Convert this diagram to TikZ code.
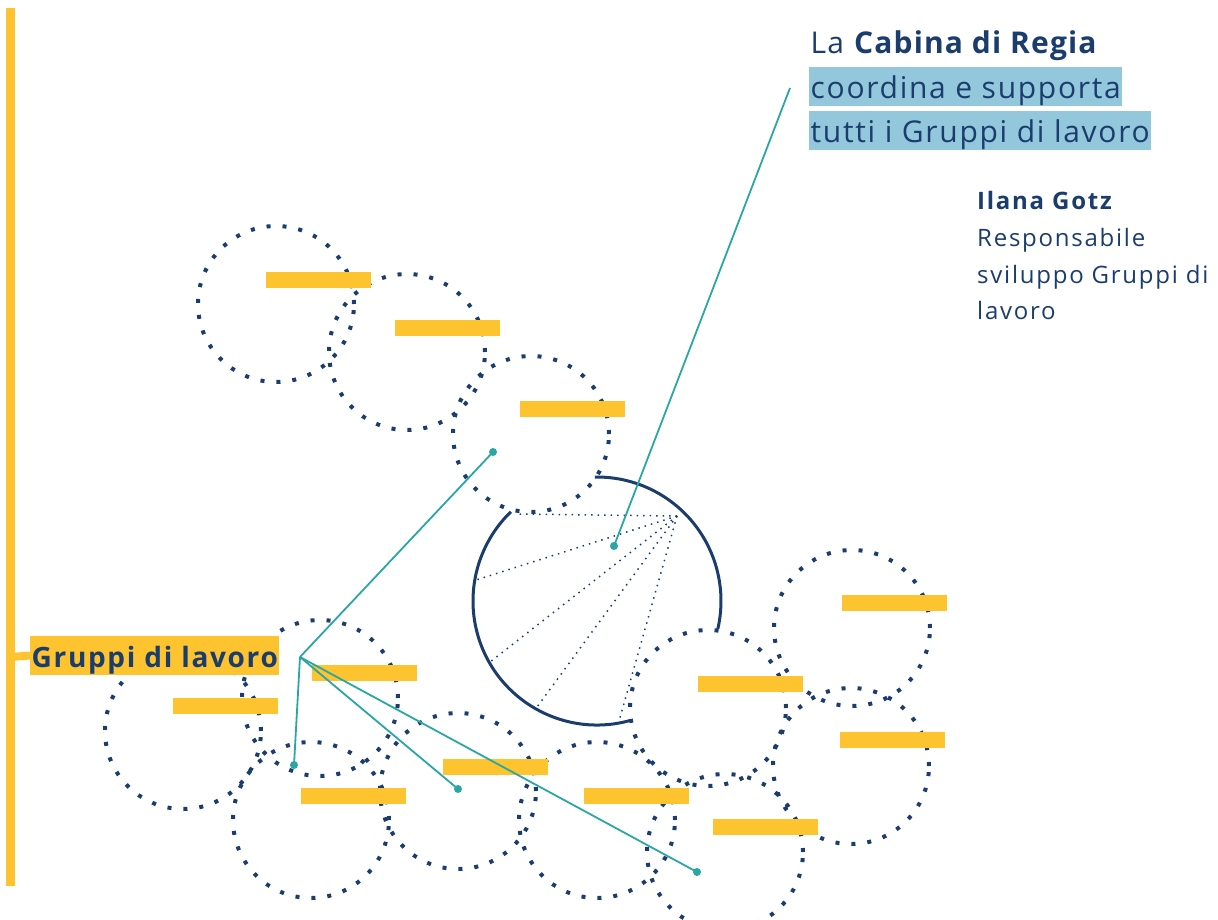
\documentclass[tikz,border=0pt]{standalone}
\usepackage{fontspec}
\setmainfont{Open Sans}
\definecolor{navy}{HTML}{1B3D6D}
\definecolor{gold}{HTML}{FDC42F}
\definecolor{linkteal}{HTML}{2AA6A5}
\definecolor{skyband}{HTML}{93C7DB}
\tikzset{
  group/.style={circle,draw=navy,line width=4pt,dash pattern=on 4pt off 12pt,minimum size=156pt,inner sep=0pt},
  bar/.style={fill=gold,minimum width=105pt,minimum height=16pt,inner sep=0pt},
  link/.style={linkteal,line width=1.8pt},
  pin/.style={circle,fill=linkteal,inner sep=0pt,minimum size=8pt},
  ray/.style={navy,line width=1.5pt,dash pattern=on 1.5pt off 5pt},
  band/.style={text=navy,inner xsep=1.5pt,inner ysep=5pt,text height=26pt,text depth=3pt,anchor=base west},
  big/.style={font=\fontsize{30}{36}\selectfont\addfontfeatures{LetterSpace=5.7}}
}
\begin{document}
\begin{tikzpicture}[x=1pt,y=-1pt]
  \useasboundingbox (0,0) rectangle (1218,919);
  % working groups
  \begin{scope}[every node/.style={group}]
    \foreach \n/\x/\y in {1/276/304,2/407/352,3/531/434,4/183/731,5/311/820,6/320/698,
                          7/458/791,8/597/820,9/708/708,10/852/628,11/851/766,12/725/852}
      \node (g\n) at (\x,\y) {};
  \end{scope}
  % cabina di regia
  \coordinate (cab) at (597,601);
  \coordinate (focus) at (677,516);
  \draw[navy,line width=3pt] (cab) ++(-91:124) arc[start angle=-91,end angle=13,radius=124];
  \draw[navy,line width=3pt] (cab) ++(75:124) arc[start angle=75,end angle=226,radius=124];
  \foreach \p/\x/\y in {a/515/514,b/476/580,c/490/662,d/537/707,e/619/721}
    \draw[ray] (focus) -- (\x,\y) coordinate (r\p);
  % labels of the groups
  \begin{scope}[every node/.style={bar}]
    \foreach \n/\x/\y in {1/318.5/279.5,2/447.5/328,3/572.5/409,4/364.5/673,5/225.5/706,6/495.5/767,
                          7/353.5/796,8/636.5/796,9/750.5/684,10/894.5/603,11/892.5/740,12/765.5/827}
      \node (b\n) at (\x,\y) {};
  \end{scope}
  % links
  \coordinate (hub) at (300,657);
  \coordinate (cue) at (790,88);
  \node[pin] (p0) at (614,546) {};
  \node[pin] (p1) at (493,452) {};
  \node[pin] (p2) at (294,765) {};
  \node[pin] (p3) at (458,789) {};
  \node[pin] (p4) at (697,872) {};
  \draw[link] (cue) -- (p0.center);
  \foreach \k in {1,...,4}
    \draw[link] (hub) -- (p\k.center);
  % spine
  \coordinate (top) at (10.3,8);
  \coordinate (bottom) at (10.3,886);
  \coordinate (spine) at (10.3,657);
  \draw[gold,line width=8.5pt] (top) -- (bottom);
  \node[band,fill=gold,font=\fontsize{28}{32}\selectfont\bfseries\addfontfeatures{LetterSpace=6}] (grp) at (30,667) {Gruppi di lavoro};
  \draw[gold,line width=8pt] (spine) -- (grp.west);
  % texts
  \node[band,font=\fontsize{30}{36}\selectfont\addfontfeatures{LetterSpace=3.8}] (t1) at (809,53.5) {La \textbf{Cabina di Regia}};
  \node[band,big,fill=skyband] (t2) at (809,98) {coordina e supporta};
  \node[band,big,fill=skyband] (t3) at (809,142) {tutti i Gruppi di lavoro};
  \node[text=navy,anchor=north west,inner sep=0pt,align=left,font=\fontsize{24}{36.8}\selectfont\addfontfeatures{LetterSpace=7.3}] (who) at (977,191)
    {\textbf{Ilana Gotz}\\Responsabile\\sviluppo Gruppi di\\lavoro};
\end{tikzpicture}
\end{document}
